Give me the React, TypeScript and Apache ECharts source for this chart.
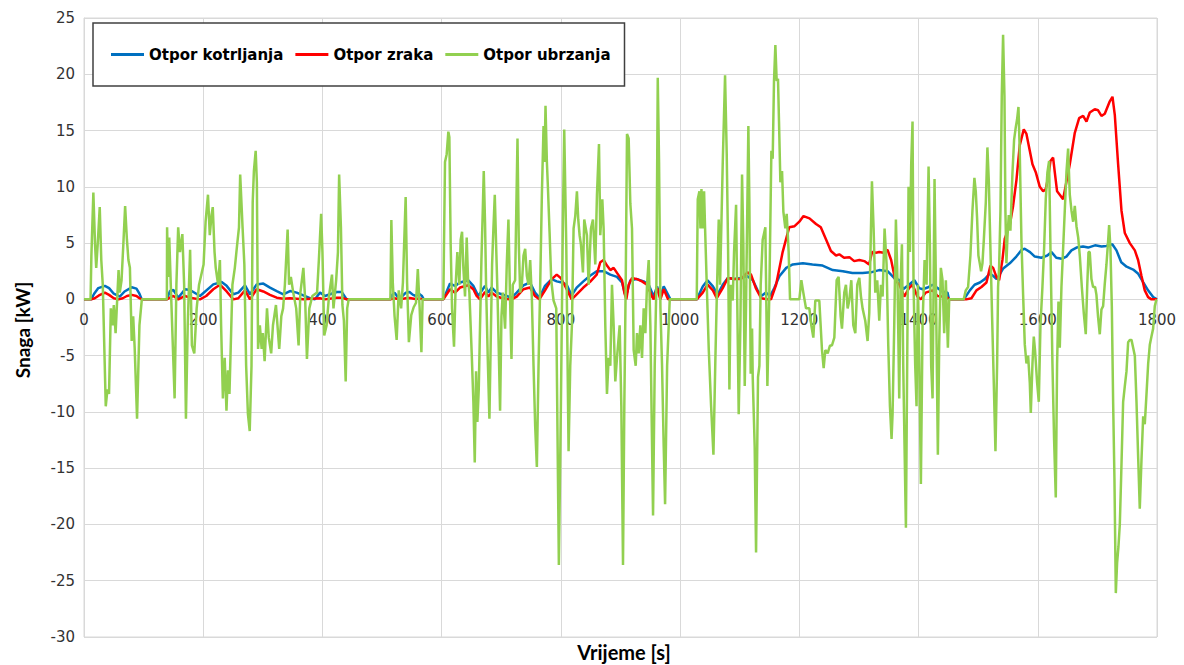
import React, { useEffect, useRef } from "react";
import * as echarts from "echarts";

const seriesNames = ["Otpor kotrljanja", "Otpor zraka", "Otpor ubrzanja"];
const seriesColors = ["#0070C0", "#FF0000", "#92D050"];

// Otpor kotrljanja [t (s), P (kW)]
const rollingData: number[][] = [
  [0, 0], [12, 0], [17, 0.5], [24, 1.0], [35, 1.2], [42, 1.0], [50, 0.5], [60, 0.25], [68, 0.7], [80, 1.07], [88, 0.95], [93, 0.5], [97, 0],
  [139, 0], [144.3, 0.75], [149.9, 0.83], [158.2, 0.15], [169.4, 0.9], [177.8, 0.83], [194.6, 0.3], [216.9, 1.33], [230.9, 1.54], [239.3, 1.2], [250.5, 0.45], [258.9, 0.6], [270.1, 1.25], [278.5, 0.45], [289.7, 1.33], [300.8, 1.4], [312, 1.04], [323.3, 0.74], [334.4, 0.45], [345.6, 0.74], [356.8, 0.6], [368, 0.36], [379.1, 0.1], [387.5, 0], [395.9, 0.6], [404.3, 0.3], [412.7, 0.45], [423.9, 0.65], [432.3, 0.65], [440.7, 0],
  [514, 0], [517, 0.4], [521, 0.6], [525, 0.3], [529, 0.1], [534, 0.3], [540, 0.6], [546, 0.65], [552, 0.4], [557, 0.3], [562, 0.5], [567, 0.3], [570, 0],
  [602.8, 0], [614, 1.4], [622.4, 1.2], [630.8, 1.5], [644.7, 1.7], [653.1, 1.2], [661.5, 0.3], [667.1, 0.75], [672.7, 1.2], [678.3, 0.6], [683.9, 1.05], [692.3, 0.6], [700.7, 0.45], [709.1, 0.3], [717.5, 0.15], [725.9, 0.6], [737.1, 1.25], [748.2, 1.5], [756.6, 0.6], [763.9, 0.15], [773.4, 1.2], [784.6, 1.8], [793, 1.6], [801.4, 1.5], [809.8, 1.3], [818.1, 0.35], [826.5, 1.05], [837.7, 1.6], [848.9, 2.1], [860.1, 2.5], [871.7, 2.5], [882.9, 2.2], [894.1, 2.0], [902.5, 1.5], [908.1, 0.4], [910.9, 0.6], [916.5, 1.7], [927.7, 1.8], [938.9, 1.6], [947.3, 1.3], [955.7, 0.25], [961.3, 1.15], [966.9, 0.25], [972.5, 1.15], [983.8, 0],
  [1028, 0], [1038, 1.15], [1046, 1.7], [1055, 1.15], [1063, 0.45], [1071.5, 1.3], [1080, 1.9], [1091, 1.8], [1102, 1.9], [1113, 2.05], [1122, 1.7], [1130, 0.8], [1136, 0.3], [1144, 0.6], [1151, 0.3], [1158, 1.0], [1166.5, 2.05], [1178, 2.8], [1189, 3.1], [1206, 3.2], [1222, 3.1], [1239, 3.0], [1256, 2.6], [1273, 2.5], [1289, 2.35], [1306, 2.35], [1320, 2.4], [1334, 2.6], [1348, 2.5], [1359, 1.9], [1368, 1.7], [1374, 0.9], [1384, 1.3], [1393, 1.7], [1401, 1.0], [1407, 0.9], [1415, 1.05], [1423.5, 1.3], [1432, 1.0], [1440, 0.7], [1448.6, 0.6], [1451, 0],
  [1476, 0], [1486, 0.8], [1494, 1.3], [1503, 1.5], [1511, 1.8], [1519.5, 2.3], [1525, 2.1], [1531, 1.8], [1536, 2.2], [1542, 2.75], [1553, 3.2], [1564, 3.8], [1573, 4.4], [1578, 4.5], [1587, 4.2], [1595, 3.8], [1606, 3.7], [1616, 3.9], [1623, 4.2], [1631, 3.7], [1640, 3.6], [1648, 3.8], [1656.5, 4.35], [1665, 4.6], [1676, 4.7], [1684.5, 4.6], [1696, 4.8], [1707, 4.7], [1715, 4.75], [1725, 4.9], [1732, 4.35], [1740, 3.3], [1749, 2.9], [1760, 2.65], [1768, 2.3], [1777, 1.5], [1785, 0.8], [1793.5, 0.2], [1800, 0],
];

// Otpor zraka [t (s), P (kW)]
const airData: number[][] = [
  [0, 0], [12, 0], [18, 0.1], [25, 0.35], [35, 0.6], [42, 0.4], [50, 0.1], [58, 0], [65, 0.1], [72, 0.3], [80, 0.4], [88, 0.3], [93, 0.1], [97, 0],
  [139, 0], [144.3, 0.15], [149.9, 0.3], [158.2, 0], [169.4, 0.3], [177.8, 0.15], [194.6, 0], [205, 0.3], [216.9, 0.9], [228.1, 1.3], [239.3, 0.7], [250.5, 0], [258.9, 0.1], [270.1, 0.8], [278.5, 0], [289.7, 0.9], [300.8, 0.7], [312, 0.4], [323.3, 0.15], [334.4, 0.05], [345.6, 0.1], [356.8, 0.05], [368, 0], [395.9, 0.1], [404.3, 0], [423.9, 0.15], [432.3, 0.15], [440.7, 0],
  [514, 0], [521, 0.1], [529, 0], [540, 0.1], [546, 0.12], [556, 0.03], [562, 0.08], [570, 0],
  [602.8, 0], [614, 0.9], [622.4, 0.6], [630.8, 1.05], [644.7, 1.25], [653.1, 0.9], [658.7, 0.3], [664.3, 0], [672.7, 0.65], [678.3, 0.25], [683.9, 0.6], [692.3, 0.25], [700.7, 0.12], [709.1, 0.03], [717.5, 0], [725.9, 0.25], [737.1, 0.9], [748.2, 1.05], [756.6, 0.3], [763.9, 0], [773.4, 0.8], [784.6, 1.8], [793, 2.2], [799.7, 1.9], [807, 1.2], [812.6, 0.6], [818.1, 0], [826.5, 0.45], [837.7, 1.05], [848.9, 1.55], [860.1, 2.2], [866.1, 3.3], [871.7, 3.5], [877.3, 3.0], [882.9, 2.6], [888.5, 2.8], [894.1, 2.35], [902.5, 1.7], [906.4, 0.6], [909.8, 0], [913.7, 1.3], [919.3, 1.9], [927.7, 1.8], [936.1, 1.6], [944.5, 1.3], [952.9, 0.25], [955.7, 0], [961.3, 1.0], [966.9, 0], [972.5, 0.9], [979.8, 0],
  [1028, 0], [1038, 0.6], [1046, 1.3], [1055, 0.8], [1061.5, 0.1], [1071.5, 1.0], [1080, 1.9], [1091, 1.8], [1102, 1.8], [1113, 2.4], [1119, 2.2], [1127, 1.0], [1136, 0.1], [1147, 0], [1152.5, 0], [1161, 1.3], [1172, 4.2], [1183, 6.4], [1192, 6.5], [1200, 6.9], [1207, 7.4], [1217, 7.2], [1228, 6.7], [1236, 6.4], [1245, 5.3], [1253, 4.3], [1261.5, 3.9], [1267, 4.0], [1275, 3.7], [1284, 3.75], [1292, 3.4], [1300.6, 3.5], [1309, 3.4], [1317, 3.1], [1322, 4.2], [1328.5, 4.15], [1334, 4.2], [1341, 4.15], [1348, 4.4], [1354, 3.5], [1361, 1.7], [1368, 1.3], [1376, 0.25], [1384, 1.0], [1390, 1.3], [1398, 0.25], [1404, 0], [1412, 0.6], [1423.5, 0.8], [1432, 0.3], [1440, 0.25], [1448.6, 0.15], [1451, 0],
  [1480, 0], [1488.7, 0.1], [1497.1, 0.8], [1505.5, 1.1], [1513.9, 1.5], [1520.6, 3.0], [1525.1, 2.8], [1530.6, 2.0], [1535.1, 1.7], [1540.7, 3.5], [1544.6, 5.4], [1553, 6.6], [1558.6, 8.3], [1564.2, 10.6], [1569.8, 13.7], [1576.5, 15.1], [1581, 14.7], [1586.6, 13.2], [1591.1, 12], [1596.6, 11.3], [1603.4, 10], [1609, 9.6], [1613.4, 9.8], [1617.3, 10.8], [1621.3, 12.3], [1625.7, 12.6], [1628.5, 11.3], [1632.4, 9.6], [1636.9, 9.3], [1642.5, 8.9], [1653.7, 12.0], [1662.1, 14.8], [1669.4, 16.1], [1676.1, 16.3], [1681.7, 15.8], [1687.2, 16.6], [1695.6, 16.9], [1701.2, 16.8], [1706.8, 16.3], [1712.4, 16.5], [1720.8, 17.6], [1725.3, 18.0], [1729.2, 16.4], [1734.8, 12.0], [1740.4, 7.9], [1746, 5.9], [1754.4, 5.0], [1762.8, 4.35], [1768.3, 3.5], [1773.9, 2.1], [1779.5, 0.8], [1785.1, 0.2], [1790.7, 0], [1800, 0],
];

// Otpor ubrzanja [t (s), P (kW)]
const accelData: number[][] = [
  [0, 0], [11, 0], [12.4, 3.9], [15.7, 9.5], [18.5, 4.9], [20.5, 2.8], [23, 4.9], [26.4, 8.2], [29, 3.5], [31.5, 1.3], [36.5, -9.5], [39.3, -8.0], [42, -8.4], [45, -0.8], [48, -2.3], [50, -0.5], [53, -3.0], [58, 2.6], [60, 0.6], [63, 1.7], [66, 4.9], [69, 8.3], [72, 5.3], [74.5, 3.5], [77, 2.8], [80, -3.7], [82.5, -1.5], [85, -4.3], [89, -10.6], [93, -2.3], [97, 0],
  [139, 0], [139.4, 6.4], [141, 2.0], [143, 5.5], [146, 0.6], [152, -8.8], [155, 1.3], [158, 6.4], [161, 4.2], [165, 5.8], [168, 1.3], [171, -10.6], [174, -2.3], [178, 4.4], [181, -4.1], [185, -4.8], [189, -0.8], [193, 1.3], [200.6, 3.1], [204, 6.9], [208, 9.3], [211, 5.7], [214, 7.5], [216, 8.2], [219, 4.2], [221, 2.8], [225, 1.3], [228, 3.5], [230, -2.3], [233, -8.8], [236, -5.2], [239, -9.9], [241.5, -6.3], [244, -8.4], [249, 1.3], [253, 2.8], [257, 4.9], [260, 6.4], [262, 11.1], [266, 6.4], [269, 3.1], [272, -5.9], [275, -10.2], [278, -11.7], [281, -5.9], [283, 8.6], [285, 11.4], [288, 13.2], [290, 10.4], [292, -4.4], [295, -2.3], [298, -4.4], [300, -3.0], [303, -5.5], [307, -0.8], [310, -3.4], [314, -4.8], [317, -2.3], [322, -0.5], [327.5, -4.4], [331, -1.5], [334, -0.8], [337, 1.3], [341.6, 6.2], [344, 1.3], [347, 2.0], [351, 0.6], [356, -0.8], [360, -4.1], [363, 0.6], [368, 2.8], [371, 0.0], [374, -5.3], [378, -0.8], [383, 0.3], [391, 0.6], [394, 3.5], [397.8, 7.6], [400, 4.2], [403, -3.2], [407, -2.3], [411, 0.3], [416, 2.2], [418.5, -0.8], [423, 1.7], [426, 4.2], [428, 11.1], [431, 6.4], [433.5, -0.5], [436, -1.9], [439, -7.3], [441.5, -0.8], [444, 0],
  [514, 0], [515.6, 7.05], [518, 1.5], [521, -1.5], [524.5, -3.6], [528, 0.8], [532, -0.8], [535, 1.5], [539.6, 9.1], [542, 1.5], [545, -3.8], [549, -1.4], [553, -0.7], [557, -0.3], [560, 2.7], [563, -0.7], [566, -4.7], [568, 0],
  [602.8, 0], [605.6, 12.2], [608.4, 12.9], [611.2, 14.9], [612.9, 14.4], [615.1, 4.9], [617.4, -0.8], [620.7, -4.2], [623.5, 1.3], [626.3, 4.2], [629.7, 1.3], [631.9, 5.3], [634.2, 6.0], [636.4, 2.8], [639.2, 0.25], [642, 5.5], [644.3, 1.7], [646.5, 0.6], [650.4, -4.8], [653.2, -9.1], [655.5, -14.5], [657.7, -6.4], [659.9, -10.9], [662.2, -8.0], [664.4, -2.3], [666.7, 3.5], [668.9, 7.8], [670.6, 11.4], [672.8, 6.7], [674.5, 1.3], [677.3, -5.2], [680.1, -10.6], [682.4, -3.4], [684.6, 3.1], [686.8, 6.3], [689.1, 9.3], [691.3, 4.9], [693.6, 0.6], [695.8, -4.5], [698, -9.9], [700.3, -1.5], [702.5, 0.6], [706.4, -2.6], [709.2, 3.1], [712, 7.1], [714.8, -0.1], [717.1, -5.3], [719.3, 1.3], [723.2, 1.7], [727.2, 14.3], [729.4, 4.9], [731.7, 0.6], [734.5, 1.3], [737.3, 3.9], [740.1, 4.5], [742.9, 2.1], [745.7, 1.3], [748.5, 3.5], [751.3, 0.1], [754.1, -5.9], [756.9, -11.3], [759.7, -14.9], [762.5, -5.9], [765.3, 1.3], [768.1, 9.3], [770.9, 15.4], [772.5, 12.2], [774.2, 17.2], [776.5, 12.2], [778.2, 10.0], [781, 6.0], [783.8, 1.7], [787.7, -0.1], [792.2, -0.8], [796.6, -23.6], [800, -9.5], [803.4, 7.1], [805.6, 15.1], [809, 4.9], [812.9, -13.5], [815.7, -5.9], [818.5, -2.3], [821.3, 6.3], [824.1, 7.4], [826.9, 9.6], [829.1, 7.1], [831.4, 5.7], [833.6, 4.9], [837, 2.4], [839.2, 7.1], [843.7, 5.7], [846.5, 1.3], [850.4, 6.3], [853.8, 7.1], [857.7, 3.1], [860.5, 9.3], [863.9, 13.8], [866.1, 5.7], [869.5, 8.9], [871.7, 6.3], [874.5, -2.3], [877.3, -8.4], [880.1, -5.2], [882.9, -5.9], [885.7, 1.3], [888.5, -2.3], [891.3, -7.3], [894.1, -5.2], [898.6, -2.3], [901.4, -9.5], [904.2, -23.6], [906.4, -9.5], [908.7, 1.3], [910.9, 14.7], [913.7, 14.3], [916.5, 8.5], [919.3, 6.3], [922.1, -4.5], [925.5, -5.9], [927.7, -3.0], [930.5, -4.8], [933.3, -2.3], [936.1, -5.2], [938.9, -0.8], [941.7, -3.0], [944.5, 1.3], [947.3, 3.5], [950.1, -2.3], [954.6, -19.2], [957.4, -5.9], [960.2, 1.3], [962.5, 19.7], [964.7, 12.1], [967, -0.8], [969.7, -5.9], [972.5, -13.1], [974.8, -18.2], [978.2, -5.9], [982.6, 0],
  [1027.9, 0], [1029.6, 8.9], [1032.4, 9.6], [1034.1, 6.3], [1035.8, 9.8], [1038, 6.3], [1040.2, 9.6], [1041.9, 6.3], [1044.7, 1.3], [1048.1, -4.5], [1052, -9.5], [1055.9, -13.8], [1059.2, -5.2], [1062, 1.3], [1064.8, 7.1], [1067, 1.3], [1071.5, 12.1], [1075.4, 19.9], [1078.2, 12.9], [1080.4, 4.9], [1082.7, -8.0], [1084.9, 1.3], [1088.3, -0.1], [1090.5, 4.2], [1093.9, 8.4], [1095.5, 1.3], [1098.3, -10.2], [1101.1, -2.3], [1103.9, 11.1], [1106.1, 4.9], [1108.4, -7.7], [1110.6, -0.5], [1114.5, 15.4], [1116.2, 8.5], [1118.4, -6.6], [1120.7, -2.6], [1121.8, -6.9], [1125.1, -13.1], [1127.4, -22.5], [1130.7, -6.9], [1133, -5.9], [1135.2, 1.3], [1138.5, 5.3], [1143, 6.4], [1146.4, -7.7], [1149.7, 0.6], [1153.1, 13.2], [1155.3, 12.5], [1157.5, 19.4], [1159.8, 22.6], [1162, 19.4], [1164.2, 19.6], [1165.9, 15.8], [1168.2, 10.4], [1171, 11.4], [1173.2, 7.8], [1176.5, 6.3], [1178.8, 7.6], [1182.1, 4.2], [1184.4, 0], [1200, 0], [1203.4, 1.7], [1206.7, 0.6], [1211.2, -0.8], [1216.8, -0.8], [1220.1, -2.3], [1223.5, -3.4], [1226.8, -0.1], [1230.7, -0.1], [1233.5, -0.1], [1238, -4.5], [1240.8, -6.1], [1243.6, -4.5], [1247.5, -4.8], [1251.4, -4.1], [1254.7, -4.1], [1258.7, -3.4], [1262.6, 1.7], [1265.9, 2.0], [1269.3, -1.5], [1271.5, -2.6], [1275.4, 0.6], [1278.2, 1.3], [1281, -0.8], [1283.8, -0.1], [1287.2, 1.7], [1290.5, -2.3], [1293.9, -3.0], [1297.2, 1.3], [1300.6, 1.9], [1303.4, 0.25], [1306.1, -0.8], [1310.6, -1.9], [1314.5, -3.7], [1317.3, -1.2], [1321.8, 10.5], [1324.6, 6.3], [1327.4, 0.6], [1330.7, 1.7], [1334.1, -1.9], [1336.9, 1.3], [1339.7, 0.25], [1343, 6.3], [1346.4, 3.1], [1349.2, -4.1], [1352, -9.5], [1354.7, -12.4], [1356.4, -10.2], [1359.2, -2.3], [1362, 7.1], [1364.8, 1.3], [1367.6, -8.8], [1369.8, 1.3], [1372.1, 4.9], [1374.3, -5.9], [1376.5, -13.1], [1378.8, -20.3], [1381, -5.2], [1383.2, 10.0], [1385.5, 4.2], [1387.7, 12.1], [1389.9, 15.8], [1391.6, 1.3], [1394.4, -5.9], [1396.6, -9.5], [1398.9, 1.3], [1401.1, -4.8], [1403.9, -16.4], [1406.7, -2.3], [1410.1, 3.5], [1413.4, 1.3], [1416.8, 11.8], [1419, 4.9], [1421.2, -5.9], [1423.5, -8.8], [1426.8, 10.7], [1429.1, 1.3], [1432.4, -13.8], [1434.6, -4.1], [1437.4, 2.8], [1440.2, 1.7], [1443, -3.0], [1445.8, 1.7], [1449.2, -4.3], [1451.4, 0],
  [1475.8, 0], [1479.2, 0.8], [1483.1, 1.1], [1487, 3.9], [1490.4, 7.9], [1493.7, 10.8], [1496, 9.6], [1498.2, 7.2], [1500.4, 3.9], [1502.7, 3.2], [1504.9, 2.5], [1507.2, 3.2], [1509.4, 5.2], [1512.8, 8.6], [1515.5, 13.5], [1517.8, 10.6], [1520.6, 4.5], [1523.4, -1.6], [1526.2, -7.4], [1529, -13.5], [1531.8, -5.7], [1533.4, 1.1], [1535.1, 2.8], [1537.4, 7.9], [1539.6, 18.1], [1541.8, 23.5], [1544.1, 18.1], [1545.7, 7.9], [1547.4, 3.2], [1549.1, 5.5], [1551.3, 7.5], [1554.1, 6.1], [1557.5, 11.2], [1560.3, 14.2], [1563.1, 15.3], [1565.3, 16.0], [1567.6, 17.1], [1569.8, 13.0], [1572.6, 5.2], [1575.4, 0.4], [1578.2, -4.0], [1581, -5.7], [1583.8, -5.0], [1586.6, -7.4], [1588.3, -10.1], [1591.1, -5.7], [1593.3, -3.3], [1595.5, -4.6], [1598.9, -7.4], [1601.7, -9.1], [1604.5, -2.3], [1607.8, 1.1], [1610.6, 4.5], [1613.4, 8.9], [1616.2, 11.3], [1619, 12.3], [1621.3, 4.5], [1624.6, -5.7], [1627.4, -12.5], [1630.2, -17.6], [1632.4, -5.7], [1634.7, -0.2], [1636.9, -4.3], [1639.7, 1.1], [1642.5, 4.5], [1645.3, 7.9], [1648.1, 11.3], [1650.9, 13.4], [1653.7, 9.3], [1656.5, 7.9], [1659.3, 6.9], [1662.1, 8.3], [1664.9, 6.5], [1667.8, 5.5], [1670.6, 3.8], [1673.9, 1.1], [1677.3, -1.3], [1680.5, -3.1], [1682.9, 1.1], [1685.1, 4.2], [1687.2, 4.2], [1690, 1.8], [1692.8, 1.1], [1696.2, 1.1], [1698.4, 0.4], [1701.2, -1.6], [1704, -3.1], [1706.8, -0.9], [1709.6, -0.6], [1712.4, 1.4], [1715.2, 3.1], [1718, 5.2], [1719.7, 6.6], [1721.9, 4.5], [1724.2, -0.6], [1726.4, -9.1], [1728.6, -15.9], [1730.9, -26.1], [1733.1, -23.4], [1735.3, -22.0], [1737.6, -20.0], [1739.8, -15.9], [1743.2, -9.1], [1746, -7.7], [1748.8, -6.4], [1751.6, -3.8], [1754.4, -3.6], [1757.2, -3.6], [1760, -4.3], [1762.8, -5.0], [1765.6, -9.1], [1768.5, -14.2], [1771.1, -18.6], [1774, -14.2], [1776.8, -10.4], [1779.5, -11.1], [1782.4, -8.4], [1785.2, -5.7], [1788, -4.0], [1790.7, -3.3], [1793.5, -2.6], [1796.3, -0.6], [1799.1, 0], [1800, 0],
];

const xTitle = "Vrijeme [s]";
const yTitle = "Snaga [kW]";

const Y_MIN = -30;
const Y_MAX = 25;
const GRID_TOP = 18;
const GRID_BOTTOM = 28;
const CHART_H = 665;

export default function App() {
  const ref = useRef<HTMLDivElement>(null);

  useEffect(() => {
    if (!ref.current) return;
    const chart = echarts.init(ref.current, undefined, { renderer: "svg" });
    const allData = [rollingData, airData, accelData];
    const gridH = CHART_H - GRID_TOP - GRID_BOTTOM;
    // move the x axis (line + labels) from the bottom of the grid up to y = 0
    const zeroOffset = -(gridH * (0 - Y_MIN)) / (Y_MAX - Y_MIN);
    chart.setOption({
      animation: false,
      backgroundColor: "#ffffff",
      grid: {
        left: 84,
        right: 27,
        top: GRID_TOP,
        bottom: GRID_BOTTOM,
        show: true,
        borderColor: "#d9d9d9",
        borderWidth: 1,
      },
      legend: {
        left: 93,
        top: 23,
        padding: [24, 14, 24, 18],
        backgroundColor: "#ffffff",
        borderColor: "#404040",
        borderWidth: 1.5,
        itemGap: 12,
        itemWidth: 33,
        itemHeight: 3,
        icon: "rect",
        data: seriesNames,
        textStyle: {
          fontFamily: "DejaVu Sans",
          fontWeight: "bold",
          fontSize: 15,
          color: "#000000",
        },
      },
      xAxis: {
        type: "value",
        position: "bottom",
        offset: zeroOffset,
        min: 0,
        max: 1800,
        interval: 200,
        axisLine: { show: true, onZero: false, lineStyle: { color: "#d9d9d9" } },
        axisTick: { show: false },
        axisLabel: {
          margin: 13,
          fontFamily: "DejaVu Sans",
          fontSize: 15,
          color: "#333333",
          formatter: (v: number) => String(v),
        },
        splitLine: { show: true, lineStyle: { color: "#d9d9d9", width: 1 } },
      },
      yAxis: {
        type: "value",
        min: Y_MIN,
        max: Y_MAX,
        interval: 5,
        axisLine: { show: true, onZero: false, lineStyle: { color: "#d9d9d9" } },
        axisTick: { show: false },
        axisLabel: {
          margin: 9,
          fontFamily: "DejaVu Sans",
          fontSize: 15,
          color: "#333333",
          formatter: (v: number) => String(v),
        },
        splitLine: { show: true, lineStyle: { color: "#d9d9d9", width: 1 } },
      },
      graphic: [
        {
          type: "text",
          x: 22,
          y: 330,
          rotation: Math.PI / 2,
          style: {
            text: yTitle,
            align: "center",
            verticalAlign: "middle",
            font: "bold 19px Lato",
            fill: "#000000",
          },
        },
        {
          type: "text",
          x: 624,
          y: 652,
          style: {
            text: xTitle,
            align: "center",
            verticalAlign: "middle",
            font: "bold 20px Lato",
            fill: "#000000",
          },
        },
      ],
      series: seriesNames.map((name, i) => ({
        name,
        type: "line",
        data: allData[i],
        showSymbol: false,
        symbol: "none",
        smooth: false,
        color: seriesColors[i],
        lineStyle: { color: seriesColors[i], width: 2.5 },
        emphasis: { disabled: true },
        silent: true,
      })),
    });
    return () => chart.dispose();
  }, []);

  return (
    <div
      ref={ref}
      style={{ position: "fixed", left: 0, top: 0, width: 1184, height: 665 }}
    />
  );
}
